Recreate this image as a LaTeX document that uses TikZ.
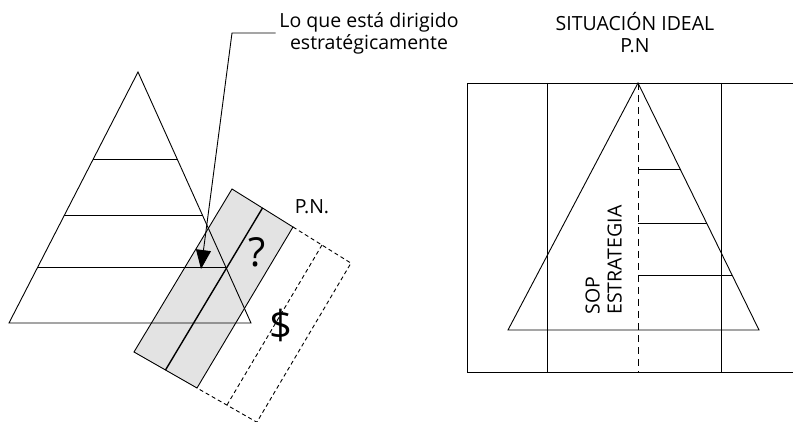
\documentclass[tikz,border=0pt]{standalone}
\usepackage{fontspec}
\setmainfont{Open Sans}
\usetikzlibrary{arrows.meta,calc}

\begin{document}
\begin{tikzpicture}[x=1pt,y=-1pt,line width=0.9pt,
		lbl/.style={font=\fontsize{19.5}{22}\selectfont,align=center},
		big/.style={font=\fontsize{40}{40}\selectfont},
		fina/.style={dash pattern=on 4pt off 3pt},
		eje/.style={dash pattern=on 7pt off 5pt}]
		\useasboundingbox (0,0) rectangle (793,422);
		\coordinate (A) at (138,72);
		\coordinate (B) at (9,323);
		\coordinate (C) at (251,323);
		\coordinate (P1) at (232,189);
		\coordinate (P2) at (293,227);
		\coordinate (P3) at (197,388);
		\coordinate (P4) at (134,352);
		\coordinate (Q2) at ($(P1)!1.95!(P2)$);
		\coordinate (Q3) at ($(P4)!1.95!(P3)$);
		\fill[black!11](P1)--(P2)--(P3)--(P4)--cycle;
		\draw(A)--(B)--(C)--cycle;
		\foreach \t in {0.35,0.57,0.78}
			\draw($(A)!\t!(B)$)--($(A)!\t!(C)$);
		\draw(P1)--(P2)--(P3)--(P4)--cycle;
		\draw[line width=1.4pt]($(P1)!0.5!(P2)$)--($(P4)!0.5!(P3)$);
		\draw[fina](P2)--(Q2)--(Q3)--(P3);
		\draw[fina]($(P2)!0.5!(Q2)$)--($(P3)!0.5!(Q3)$);
		\node (preg) at (257,252) [big]{?};
		\node (dolar) at (281,325) [big]{\$};
		\node (pn) at (312,207) [lbl]{P.N.};
		\node (nota) at (369,50) [lbl,anchor=base]{Lo que está dirigido\\estratégicamente};
		\coordinate (codo) at (232,33);
		\coordinate (punta) at (201,269);
		\draw[-{Triangle[width=15pt,length=19pt]}](nota.west |- codo)--(codo)--(punta);
		\coordinate (D) at (638,83);
		\coordinate (E) at (508,330);
		\coordinate (F) at (759,330);
		\draw(793,83)--(467,83)--(467,372)--(793,372);
		\draw(547,83)--(547,372);
		\draw(721,83)--(721,372);
		\draw[eje](D)--(D |- 0,372);
		\draw(D)--(E)--(F)--cycle;
		\foreach \t in {0.35,0.57,0.78}{
			\coordinate (h) at ($(D)!\t!(F)$);
			\draw(D |- h)--(h);
		}
		\node (titulo) at (635,53) [lbl,anchor=base]{SITUACIÓN IDEAL\\P.N};
		\node (sop) at (585,315) [lbl,rotate=90,align=left,anchor=north west,inner sep=0pt]{SOP\\ESTRATEGIA};
	\end{tikzpicture}
\end{document}
